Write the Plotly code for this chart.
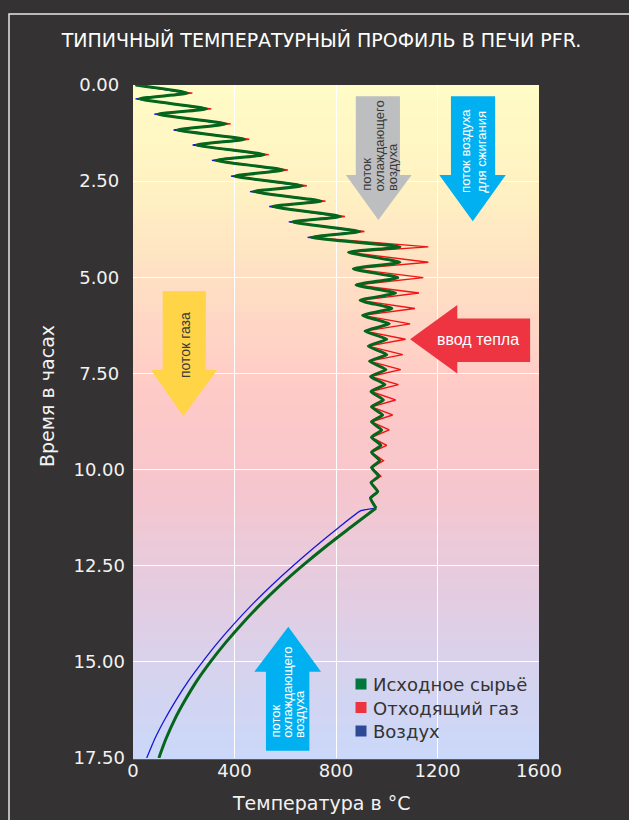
import plotly.graph_objects as go

# ---------------- data ----------------
# time (h) of the right-hand (hot) and left-hand (cold) turning points
t_right = [0.21, 0.62, 1.01, 1.41, 1.81, 2.21, 2.62, 3.02, 3.42, 3.81,
           4.21, 4.61, 5.01, 5.41, 5.81, 6.21, 6.61, 7.01, 7.40, 7.79,
           8.19, 8.58, 8.97, 9.37, 9.77, 10.17, 10.57]
t_left = [0.36, 0.76, 1.17, 1.56, 1.96, 2.37, 2.77, 3.16, 3.56, 3.96,
          4.35, 4.78, 5.20, 5.60, 5.99, 6.40, 6.79, 7.18, 7.58, 7.97,
          8.37, 8.76, 9.16, 9.55, 9.95, 10.34, 10.74]
t_start = 0.0
t_burn_end = 11.0

# Исходное сырьё (feed)
feed_start = 10
feed_right = [216, 291, 367, 440, 517, 592, 667, 741, 817, 894,
              1052, 1052, 1044, 1035, 1020, 1010, 1000, 1000, 997, 993,
              987, 984, 980, 977, 972, 968, 964]
feed_left = [25, 99, 175, 250, 326, 401, 476, 552, 629, 703,
             849, 868, 879, 895, 905, 914, 927, 932, 936, 938,
             940, 940, 940, 940, 940, 938, 936]
feed_end = 958

# Отходящий газ (exhaust gas)
gas_start = 10
gas_right = [234, 309, 385, 458, 535, 610, 685, 759, 835, 912,
             1164, 1164, 1144, 1127, 1111, 1092, 1074, 1063, 1055, 1046,
             1035, 1023, 1010, 1000, 987, 977, 967]
gas_left = [20, 94, 170, 245, 321, 396, 471, 547, 624, 698,
            849, 868, 879, 895, 905, 914, 927, 932, 936, 938,
            940, 940, 940, 940, 940, 938, 936]
gas_end = 958

# Воздух (air)
air_start = 10
air_right = [211, 286, 362, 435, 512, 587, 662, 736, 812, 889,
             1052, 1052, 1044, 1035, 1020, 1010, 1000, 1000, 997, 993,
             987, 984, 980, 977, 972, 968, 964]
air_left = [10, 84, 160, 235, 311, 386, 461, 537, 614, 688,
            849, 868, 879, 895, 905, 914, 927, 932, 936, 938,
            940, 940, 940, 940, 940, 938, 936]
air_end = 958

# cooling zone
t_cool_feed = [11.0, 11.5, 12.0, 12.5, 13.0, 13.5, 14.0, 14.5, 15.0, 15.5,
               16.0, 16.5, 17.0, 17.5]
feed_cool = [958, 858, 760, 668, 582, 503, 431, 365, 305, 251,
             205, 164, 130, 102]
t_cool_air = [11.0, 11.07, 11.5, 12.0, 12.5, 13.0, 13.5, 14.0, 14.5, 15.0,
              15.5, 16.0, 16.5, 17.0, 17.5]
air_cool = [958, 898, 812, 719, 631, 548, 471, 400, 334, 274,
            218, 169, 125, 86, 54]

x_ticks = [0, 400, 800, 1200, 1600]
y_ticks = [0, 2.5, 5.0, 7.5, 10.0, 12.5, 15.0, 17.5]

names = ["Исходное сырьё", "Отходящий газ", "Воздух"]
title = "ТИПИЧНЫЙ ТЕМПЕРАТУРНЫЙ ПРОФИЛЬ В ПЕЧИ PFR."
x_title = "Температура в °C"
y_title = "Время в часах"


def zig(start, right, left, end):
    ts, vs = [t_start], [start]
    for tr, r, tl, l in zip(t_right, right, t_left, left):
        ts += [tr, tl]
        vs += [r, l]
    ts.append(t_burn_end)
    vs.append(end)
    return ts, vs


# ---------------- styling ----------------
W, H = 629, 820
ML, MR, MT, MB = 133, 90, 85, 62
PW, PH = W - ML - MR, H - MT - MB
BG = "#343233"
FONT = "DejaVu Sans"
AFONT = "Liberation Sans, Arial, sans-serif"
TXT = "#f2f2f2"

C_FEED = "#04661c"
C_GAS = "#f01414"
C_AIR = "#1616d8"
LEG_COL = ["#00773d", "#ee3340", "#2e4a96"]


def px(x):
    return (x - ML) / PW


def py(y):
    return (MT + PH - y) / PH


fig = go.Figure()

ts, vs = zig(gas_start, gas_right, gas_left, gas_end)
fig.add_trace(go.Scatter(x=vs, y=ts, mode="lines", line=dict(color=C_GAS, width=1.4),
                         name=names[1], showlegend=False, hoverinfo="skip"))
ts, vs = zig(air_start, air_right, air_left, air_end)
fig.add_trace(go.Scatter(x=vs, y=ts, mode="lines", line=dict(color=C_AIR, width=1.3),
                         name=names[2], showlegend=False, hoverinfo="skip"))
fig.add_trace(go.Scatter(x=air_cool, y=t_cool_air, mode="lines",
                         line=dict(color=C_AIR, width=1.3, shape="spline", smoothing=0.4),
                         name=names[2], showlegend=False, hoverinfo="skip"))
ts, vs = zig(feed_start, feed_right, feed_left, feed_end)
fig.add_trace(go.Scatter(x=vs, y=ts, mode="lines",
                         line=dict(color=C_FEED, width=3.0, shape="spline", smoothing=0.5),
                         name=names[0], showlegend=False, hoverinfo="skip"))
fig.add_trace(go.Scatter(x=feed_cool, y=t_cool_feed, mode="lines",
                         line=dict(color=C_FEED, width=3.0, shape="spline", smoothing=1.0),
                         name=names[0], showlegend=False, hoverinfo="skip"))

shapes = []
# vertical gradient background of the plot area
stops = [(0.00, (255, 252, 198)), (0.15, (255, 242, 194)), (0.30, (255, 222, 196)),
         (0.45, (255, 202, 198)), (0.60, (246, 198, 206)), (0.75, (228, 204, 224)),
         (0.90, (212, 212, 240)), (1.00, (202, 216, 250))]


def col_at(f):
    for (f0, c0), (f1, c1) in zip(stops[:-1], stops[1:]):
        if f0 <= f <= f1:
            a = (f - f0) / (f1 - f0)
            return "rgb(%d,%d,%d)" % tuple(round(c0[i] + (c1[i] - c0[i]) * a) for i in range(3))
    return "rgb(%d,%d,%d)" % stops[-1][1]


N = 80
for i in range(N):
    f = (i + 0.5) / N
    shapes.append(dict(type="rect", xref="x domain", yref="y domain", layer="below",
                       x0=0, x1=1, y0=1 - i / N, y1=1 - (i + 1) / N - 0.002,
                       fillcolor=col_at(f), line=dict(width=0)))

# outer white frame
shapes.append(dict(type="rect", xref="paper", yref="paper", layer="above",
                   x0=px(9), x1=px(W + 20), y0=py(14), y1=py(H + 20),
                   line=dict(color="#e6e6e6", width=1.5), fillcolor="rgba(0,0,0,0)"))


def down_arrow(xl, xr, ytop, ybase, hl, hr, tip_x, tip_y, color):
    return dict(type="path", xref="x", yref="y", layer="above",
                path=f"M {xl},{ytop} L {xr},{ytop} L {xr},{ybase} L {hr},{ybase} "
                     f"L {tip_x},{tip_y} L {hl},{ybase} L {xl},{ybase} Z",
                fillcolor=color, line=dict(width=0))


# gray: cooling air (top)
shapes.append(down_arrow(878, 1052, 0.29, 2.34, 839, 1098, 967, 3.51, "#bdbec0"))
# cyan: combustion air
shapes.append(down_arrow(1253, 1427, 0.29, 2.34, 1207, 1469, 1339, 3.54, "#00b0f0"))
# yellow: gas flow
shapes.append(down_arrow(117, 287, 5.36, 7.41, 71, 332, 198, 8.61, "#ffd447"))
# cyan (up): cooling air (bottom)
shapes.append(down_arrow(524, 695, 17.31, 15.26, 478, 741, 612, 14.09, "#00b0f0"))
# red: heat input (pointing left)
shapes.append(dict(type="path", xref="x", yref="y", layer="above",
                   path="M 1565,6.07 L 1565,7.20 L 1278,7.20 L 1278,7.50 L 1092,6.61 "
                        "L 1278,5.72 L 1278,6.07 Z",
                   fillcolor="#ee3440", line=dict(width=0)))

ann = []


def vtext(txt, x, y0, color, size=13):
    ann.append(dict(text=txt, x=x, y=y0, xref="x", yref="y", showarrow=False,
                    textangle=-90, xanchor="center", yanchor="bottom",
                    font=dict(family=AFONT, size=size, color=color)))


vtext("поток", 919, 2.81, "#3a3a3a")
vtext("охлаждающего", 973, 2.81, "#3a3a3a")
vtext("воздуха", 1020, 2.81, "#3a3a3a")
vtext("поток воздуха", 1312, 2.86, "white")
vtext("для сжигания", 1374, 2.86, "white")
vtext("поток газа", 205, 7.67, "#3a3a3a", 14)
vtext("поток", 560, 17.03, "white")
vtext("охлаждающего", 608, 17.03, "white")
vtext("воздуха", 658, 17.03, "white")
ann.append(dict(text="ввод тепла", x=1360, y=6.61, xref="x", yref="y", showarrow=False,
                xanchor="center", yanchor="middle",
                font=dict(family=AFONT, size=16, color="white")))

# axis titles (placed as in the reference, slightly off-centre)
ann.append(dict(text=x_title, x=px(321.5), y=py(803), xref="paper", yref="paper",
                showarrow=False, xanchor="center", yanchor="middle",
                font=dict(family=FONT, size=19, color=TXT)))
ann.append(dict(text=y_title, x=px(47), y=py(396), xref="paper", yref="paper",
                showarrow=False, xanchor="center", yanchor="middle", textangle=-90,
                font=dict(family=FONT, size=19, color=TXT)))

# legend (square swatches + labels)
leg_rows = [684, 707.5, 731]
for n, c, yy in zip(names, LEG_COL, leg_rows):
    shapes.append(dict(type="rect", xref="paper", yref="paper", layer="above",
                       x0=px(355.5), x1=px(366.5), y0=py(yy - 5.5), y1=py(yy + 5.5),
                       fillcolor=c, line=dict(width=0)))
    ann.append(dict(text=n, x=px(371), y=py(yy + 0.5), xref="paper", yref="paper",
                    showarrow=False, xanchor="left", yanchor="middle",
                    font=dict(family=FONT, size=18, color="#333333")))

y_text = [("%.2f" % v) + ("\u2008" if v < 10 else "") for v in y_ticks]

fig.update_layout(
    width=W, height=H, autosize=False,
    margin=dict(l=ML, r=MR, t=MT, b=MB),
    paper_bgcolor=BG, plot_bgcolor="#ffe8c8",
    title=dict(text=title, x=321.5 / W, xanchor="center", y=1 - 40 / H, yanchor="middle",
               font=dict(family=FONT, size=19, color="white")),
    shapes=shapes, annotations=ann,
    showlegend=False,
)
fig.update_xaxes(range=[0, 1600], tickvals=x_ticks, showgrid=True, gridcolor="white",
                 gridwidth=1, zeroline=False, showline=False, ticks="",
                 tickfont=dict(family=FONT, size=18, color=TXT))
fig.update_yaxes(range=[17.5, 0], tickvals=y_ticks, ticktext=y_text, showgrid=True,
                 gridcolor="white", gridwidth=1, zeroline=False, showline=False, ticks="",
                 ticklabelstandoff=7,
                 tickfont=dict(family=FONT, size=18, color=TXT))

fig.write_html("out.html", config={"displayModeBar": False},
               post_script="document.body.style.margin='0px';"
                           "document.body.style.background='%s';" % BG)
